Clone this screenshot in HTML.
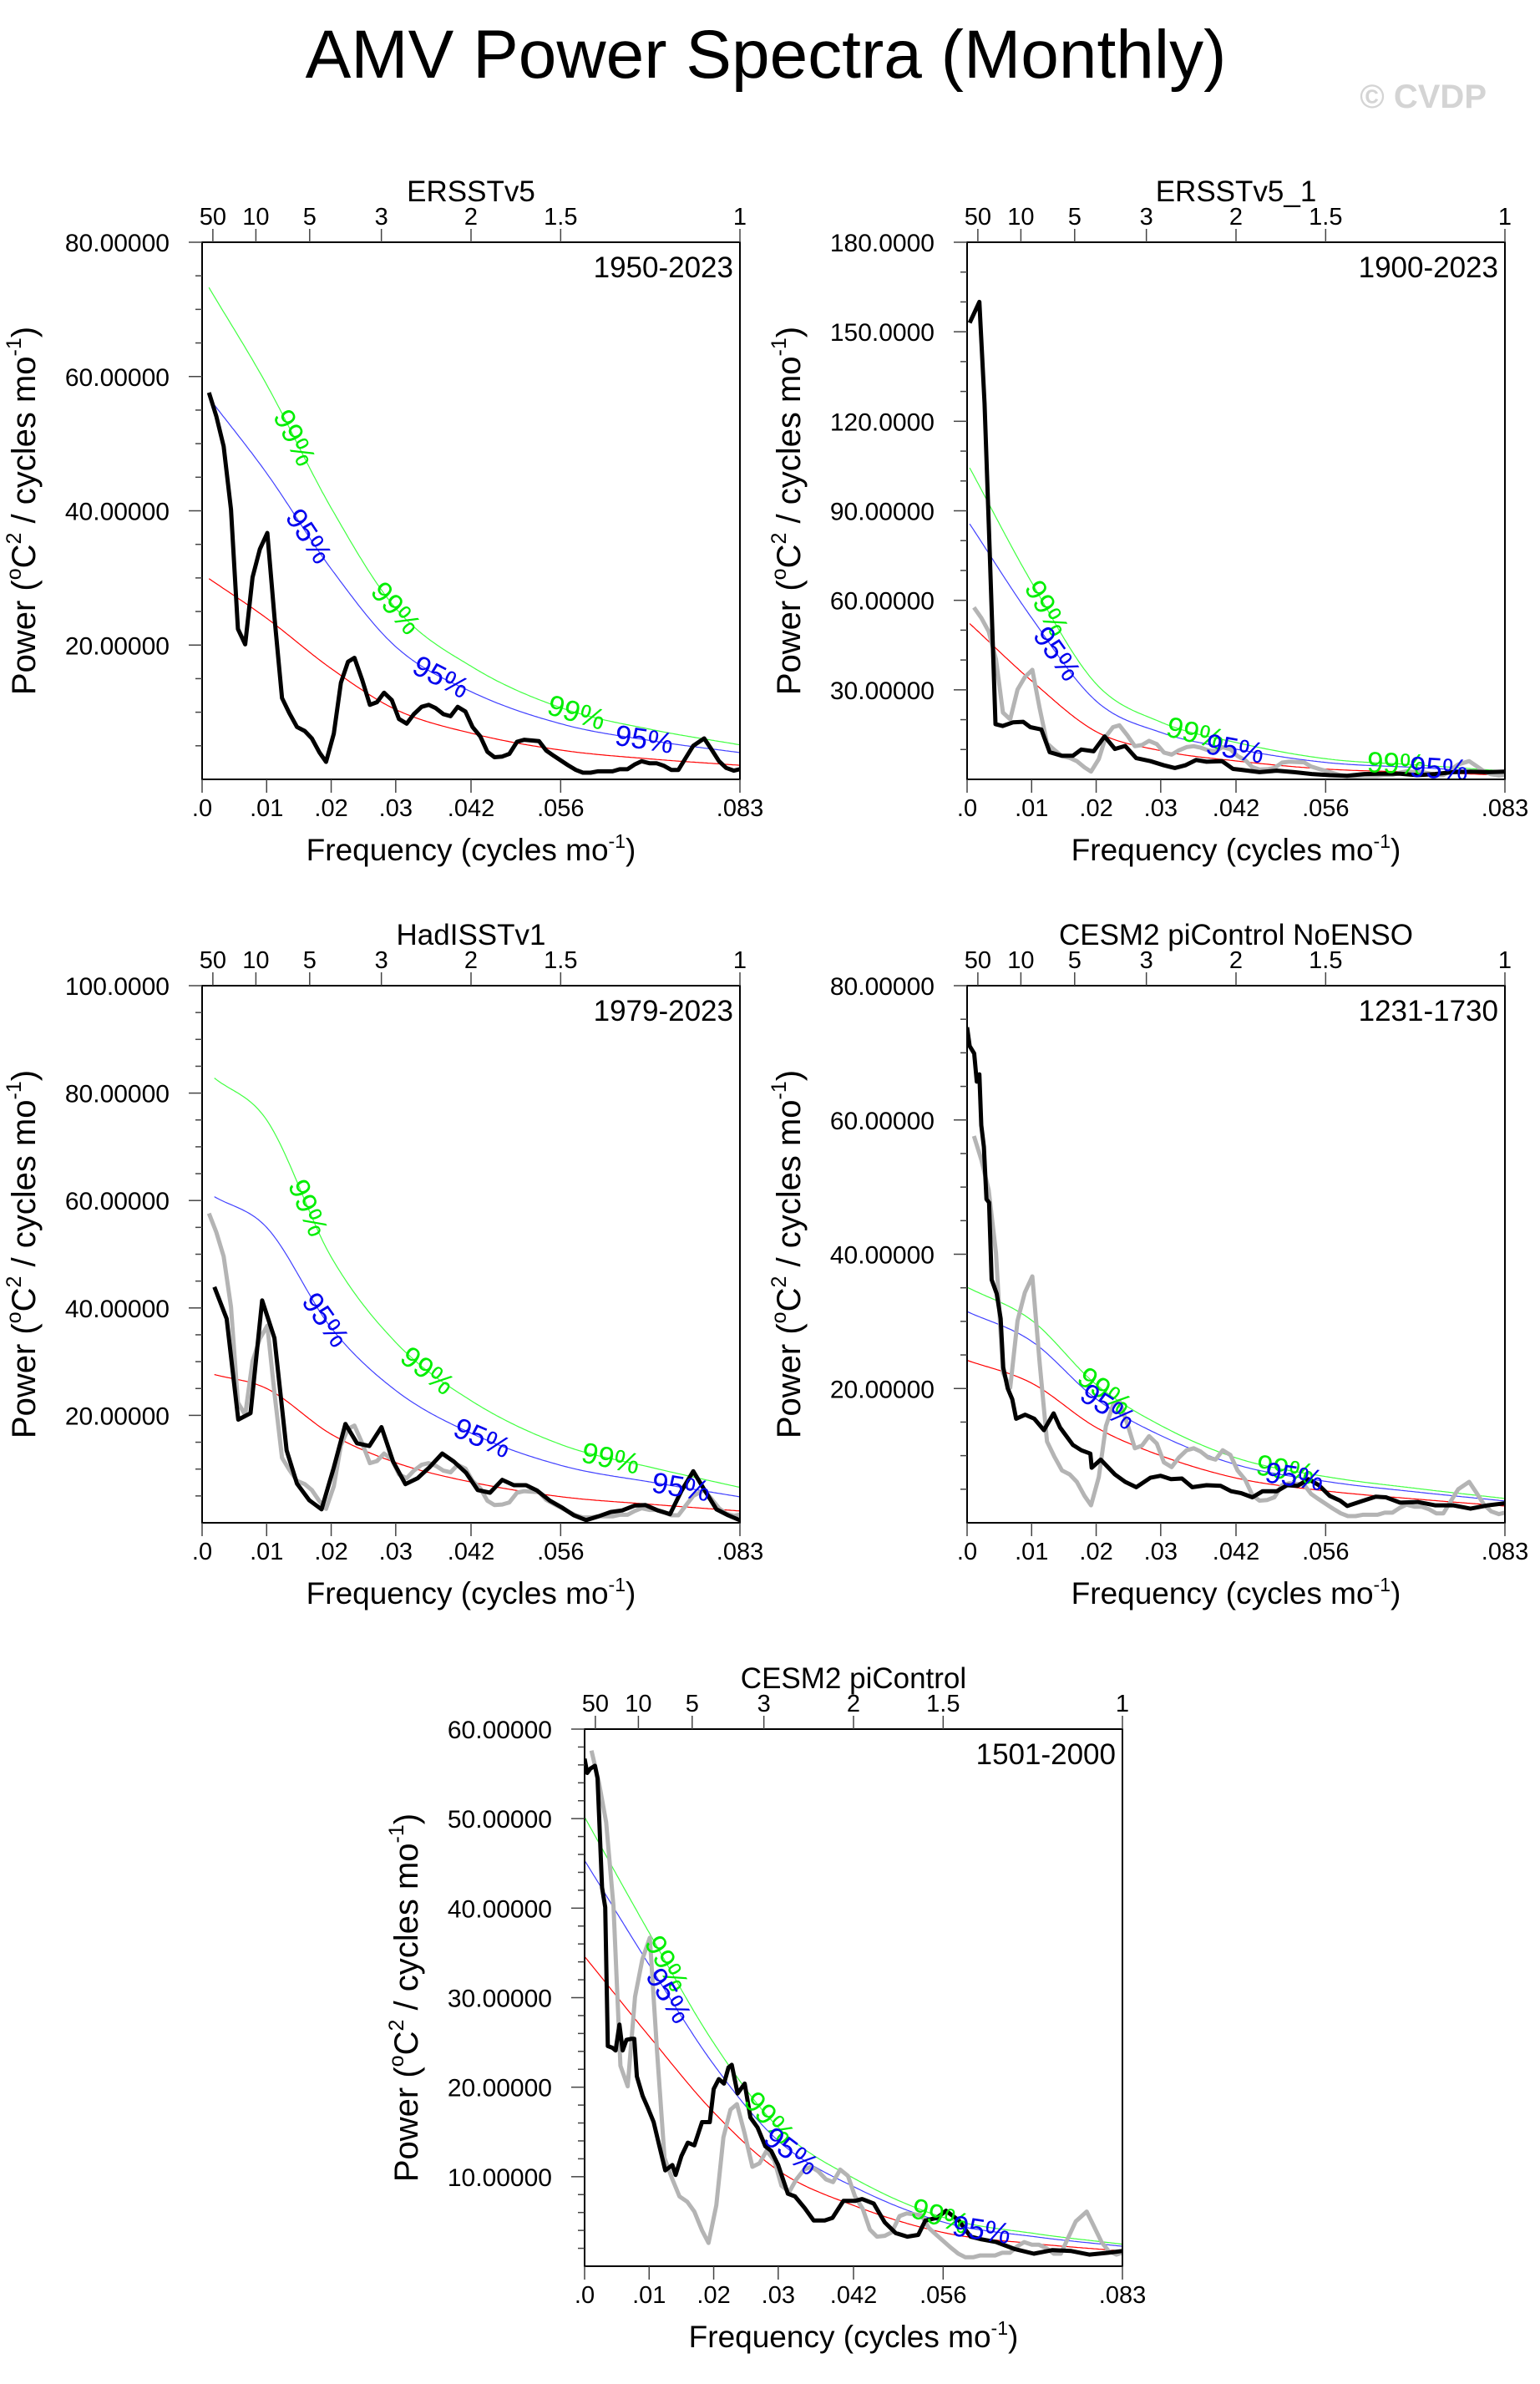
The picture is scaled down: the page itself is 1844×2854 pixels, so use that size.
<!DOCTYPE html>
<html><head><meta charset="utf-8"><title>AMV Power Spectra (Monthly)</title>
<style>
html,body{margin:0;padding:0;background:#fff;}
body{width:1844px;height:2849px;overflow:hidden;font-family:"Liberation Sans",Arial,sans-serif;}
svg text{font-family:"Liberation Sans",Arial,sans-serif;}
</style></head>
<body>
<svg id="chart" xmlns="http://www.w3.org/2000/svg" width="1844" height="2849" viewBox="0 0 1844 2849">
<text x="917" y="93" font-size="82" text-anchor="middle" fill="#000">AMV Power Spectra (Monthly)</text>
<text x="1780" y="129" font-size="40" font-weight="bold" text-anchor="end" fill="#d4d4d4">© CVDP</text>
</svg>
<script>
// ---- shared axis data ----
const topPeriods = [50, 10, 5, 3, 2, 1.5, 1];
const topPeriodLabels = ["50", "10", "5", "3", "2", "1.5", "1"];
const bottomFreqs = [0, 0.01, 0.02, 0.03, 1/24, 1/18, 1/12];
const bottomFreqLabels = [".0", ".01", ".02", ".03", ".042", ".056", ".083"];
const redFreqGrid = [0.0, 0.01, 0.02, 0.03, 0.042, 0.056, 0.07, 0.0833];

// ---- panel 1: ERSSTv5 1950-2023 (also the grey reference in other panels) ----
const p1Freq = [0.00106,0.0022,0.00334,0.00448,0.00555,0.00668,0.00782,0.00896,0.0101,0.01124,0.01238,0.0135,0.0147,0.0159,0.0170,0.0182,0.0192,0.0204,0.0215,0.0226,0.0236,0.0248,0.0260,0.0271,0.0282,0.0294,0.0305,0.0317,0.0328,0.0340,0.0351,0.0362,0.0374,0.0385,0.0396,0.0408,0.0419,0.0431,0.0442,0.0453,0.0465,0.0476,0.0488,0.0499,0.0510,0.0522,0.0533,0.0545,0.0556,0.0567,0.0579,0.0590,0.0602,0.0613,0.0624,0.0636,0.0647,0.0659,0.0670,0.0681,0.0693,0.0704,0.0716,0.0727,0.0738,0.0750,0.0761,0.0778,0.0789,0.0801,0.0812,0.0824,0.0833];
const p1Power = [57.6,54.1,49.6,40.2,22.4,20.1,30.1,34.3,36.7,23.8,12.1,9.9,7.8,7.2,6.1,4.0,2.6,6.8,14.4,17.5,18.1,14.8,11.1,11.5,12.9,11.8,9.0,8.3,9.7,10.8,11.1,10.6,9.7,9.4,10.8,10.1,7.8,6.4,4.1,3.3,3.4,3.8,5.6,5.9,5.8,5.7,4.3,3.5,2.8,2.1,1.4,1.0,1.0,1.2,1.2,1.2,1.5,1.5,2.2,2.7,2.4,2.4,2.0,1.4,1.4,3.3,5.0,6.1,4.5,2.7,1.7,1.3,1.5];
const p1Red = [29.9, 24.0, 16.5, 10.4, 6.8, 4.3, 3.0, 2.1];
const p1Conf = [1.9, 2.45];
const p1Label99 = [0.0143, 0.030, 0.058];
const p1Label95 = [0.0165, 0.037, 0.0685];

// ---- panel 2: ERSSTv5_1 1900-2023 ----
const p2Freq = [0.0004,0.0019,0.0027,0.0035,0.0044,0.0055,0.0071,0.0087,0.0098,0.0115,0.0128,0.0147,0.0164,0.0177,0.0196,0.0213,0.0229,0.0245,0.0262,0.0284,0.0305,0.0322,0.0338,0.0355,0.0371,0.0395,0.0412,0.0425,0.0453,0.0480,0.0507,0.0534,0.0562,0.0589,0.0616,0.0644,0.0671,0.0698,0.0725,0.0753,0.0780,0.0807,0.0833];
const p2Power = [153,160,126,77,18.5,17.9,19.1,19.3,17.5,16.7,9.1,7.9,7.9,10,9.4,14.4,10.2,11.2,7.1,6.1,4.7,3.8,4.7,6.5,5.9,6.1,3.5,3.2,2.4,2.9,2.4,1.8,1.4,1.2,1.8,1.9,1.9,1.4,1.8,2.4,2.6,2.4,2.6];
const p2Red = [52.2, 33.0, 16.0, 9.6, 6.1, 3.4, 2.4, 1.4];
const p2Conf = [1.64, 2.0];
const p2Label99 = [0.0123, 0.0354, 0.0665];
const p2Label95 = [0.0139, 0.0415, 0.0731];

// ---- panel 3: HadISSTv1 1979-2023 ----
const p3Freq = [0.0019,0.0038,0.0056,0.0075,0.0093,0.0112,0.0131,0.0147,0.0166,0.0185,0.0204,0.0222,0.0240,0.0259,0.0278,0.0296,0.0315,0.0334,0.0352,0.0372,0.0390,0.0409,0.0427,0.0446,0.0465,0.0483,0.0502,0.0519,0.0539,0.0557,0.0576,0.0595,0.0614,0.0633,0.0651,0.0670,0.0687,0.0706,0.0725,0.0743,0.0761,0.0779,0.0797,0.0815,0.0833];
const p3Power = [43.9,38.0,19.2,20.4,41.4,34.4,13.5,7.3,4.2,2.5,10.3,18.4,14.8,14.3,17.8,11.4,7.2,8.3,10.3,12.9,11.4,9.3,6.1,5.6,8.0,7.0,7.0,6.0,4.1,2.9,1.4,0.5,1.2,2.0,2.3,3.2,3.3,2.3,1.6,6.0,9.6,6.0,2.5,1.4,0.5];
const p3Red = [27.6, 25.0, 16.5, 11.2, 7.5, 4.8, 3.4, 2.2];
const p3Conf = [2.2, 3.0];
const p3Label99 = [0.0164, 0.0349, 0.0633];
const p3Label95 = [0.0191, 0.0434, 0.0742];

// ---- panel 4: CESM2 piControl NoENSO 1231-1730 ----
const p4Freq = [0.0,0.0004,0.0011,0.0015,0.0019,0.0022,0.0026,0.003,0.0034,0.0038,0.0046,0.0052,0.0056,0.0063,0.007,0.0076,0.009,0.0104,0.0119,0.0134,0.0144,0.0164,0.0177,0.0191,0.0193,0.0207,0.0229,0.0245,0.0262,0.0284,0.03,0.0316,0.0333,0.0349,0.0371,0.0393,0.0409,0.0425,0.0442,0.0458,0.048,0.0496,0.0512,0.0529,0.0545,0.0562,0.0578,0.0589,0.0611,0.0633,0.0649,0.0671,0.0698,0.0725,0.0753,0.078,0.0807,0.0833];
const p4Power = [73.8,71,69.9,65.7,66.8,59.2,56,48.2,47.7,36.2,34.1,30.4,23.1,20,18.4,15.5,16.1,15.5,13.8,16.3,14.2,11.6,10.8,10.3,8.2,9.4,7.2,6.1,5.3,6.7,7,6.5,6.6,5.3,5.6,5.5,4.7,4.4,3.8,4.7,4.7,5.6,5.5,6.5,5.6,4.0,3.3,2.5,3.2,3.9,3.8,3.0,3.1,2.6,2.6,2.1,2.6,2.9];
const p4Red = [24.2, 20.8, 14.2, 10.0, 6.6, 4.7, 3.5, 2.5];
const p4Conf = [1.3, 1.45];
const p4Label99 = [0.0213, 0.0493];
const p4Label95 = [0.0218, 0.0507];

// ---- panel 5: CESM2 piControl 1501-2000 ----
const p5Freq = [0.0,0.0004,0.0009,0.0016,0.002,0.0027,0.0032,0.0036,0.0043,0.0048,0.0054,0.0059,0.0065,0.0072,0.0077,0.0081,0.009,0.0098,0.0107,0.0116,0.0125,0.0136,0.0141,0.015,0.016,0.017,0.0182,0.0194,0.02,0.0208,0.0216,0.0223,0.0228,0.0237,0.0248,0.0257,0.0268,0.028,0.0289,0.03,0.0315,0.0326,0.0341,0.0355,0.0372,0.0384,0.0401,0.0419,0.043,0.0448,0.0465,0.0482,0.05,0.0517,0.0528,0.0546,0.056,0.058,0.0598,0.0615,0.0638,0.0667,0.0696,0.0725,0.0754,0.0782,0.0811,0.0833];
const p5Power = [56.7,55.1,55.6,55.9,54.5,42.3,40.1,24.6,24.4,24.1,27,24.1,25.3,25.4,25.4,21.2,19,17.7,16.1,13.4,10.7,11.3,10.2,12.3,13.8,13.5,16.1,16.1,19.8,20.9,20.4,22.2,22.5,19.3,20.4,16.6,15.5,13.4,12.9,11.3,8.1,7.8,6.5,5.1,5.1,5.4,7.3,7.3,7.5,7,4.9,3.7,3.3,3.5,5.1,5.4,6.2,5.1,3.3,3,2.7,1.9,1.4,1.8,1.7,1.3,1.5,1.7];
const p5Red = [34.6, 25.7, 17.2, 10.7, 6.7, 3.7, 2.5, 1.7];
const p5Conf = [1.31, 1.45];
const p5Label99 = [0.0127, 0.0286, 0.0551];
const p5Label95 = [0.013, 0.032, 0.0615];

// ---- y-axis tick data ----
const p1YTicks = [20, 40, 60, 80];
const p1YLabels = ["20.00000", "40.00000", "60.00000", "80.00000"];
const p2YTicks = [30, 60, 90, 120, 150, 180];
const p2YLabels = ["30.00000", "60.00000", "90.00000", "120.0000", "150.0000", "180.0000"];
const p3YTicks = [20, 40, 60, 80, 100];
const p3YLabels = ["20.00000", "40.00000", "60.00000", "80.00000", "100.0000"];
const p4YTicks = [20, 40, 60, 80];
const p4YLabels = ["20.00000", "40.00000", "60.00000", "80.00000"];
const p5YTicks = [10, 20, 30, 40, 50, 60];
const p5YLabels = ["10.00000", "20.00000", "30.00000", "40.00000", "50.00000", "60.00000"];

const NS = "http://www.w3.org/2000/svg";
const svg = document.getElementById("chart");
const W = 644, H = 643, FMAX = 1/12;

function mk(tag, attrs, parent) {
  const e = document.createElementNS(NS, tag);
  for (const k in attrs) e.setAttribute(k, attrs[k]);
  parent.appendChild(e);
  return e;
}

// monotone cubic interpolation for smooth threshold curves
function makeInterp(xs, ys) {
  const n = xs.length, d = [], m = [];
  for (let i = 0; i < n - 1; i++) d.push((ys[i+1]-ys[i])/(xs[i+1]-xs[i]));
  m.push(d[0]);
  for (let i = 1; i < n - 1; i++) m.push(d[i-1]*d[i] <= 0 ? 0 : (d[i-1]+d[i])/2);
  m.push(d[n-2]);
  for (let i = 0; i < n - 1; i++) {
    if (d[i] === 0) { m[i] = 0; m[i+1] = 0; continue; }
    const a = m[i]/d[i], b = m[i+1]/d[i], s = a*a + b*b;
    if (s > 9) { const t = 3/Math.sqrt(s); m[i] = t*a*d[i]; m[i+1] = t*b*d[i]; }
  }
  return function(x) {
    let i = 0;
    while (i < n - 2 && x > xs[i+1]) i++;
    const h = xs[i+1]-xs[i], t = (x-xs[i])/h;
    const h00 = 2*t*t*t-3*t*t+1, h10 = t*t*t-2*t*t+t, h01 = -2*t*t*t+3*t*t, h11 = t*t*t-t*t;
    return h00*ys[i] + h10*h*m[i] + h01*ys[i+1] + h11*h*m[i+1];
  };
}

function drawPanel(id, x0, y0, title, years, ymax, minorStep, yTicks, yLabels, freq, power, red, conf, lab99, lab95, showGrey) {
  const g = mk("g", {}, svg);
  
  
  const sx = f => x0 + f / FMAX * W;
  const sy = v => y0 + H - v / ymax * H;

  const clipId = id + "-clip";
  const cp = mk("clipPath", {id: clipId}, g);
  mk("rect", {x: x0, y: y0, width: W, height: H}, cp);

  const f0 = freq[0];
  const grid = redFreqGrid.slice(); grid[0] = f0;
  const redI = makeInterp(grid, red);
  const curves = [
    {name: "red-noise-curve", color: "#ff0000", k: 1},
    {name: "confidence-95-curve", color: "#0000ff", k: conf[0]},
    {name: "confidence-99-curve", color: "#00ff00", k: conf[1]}
  ];
  const plot = mk("g", {"clip-path": "url(#" + clipId + ")"}, g);
  curves.forEach(c => {
    let d = "";
    for (let i = 0; i <= 300; i++) {
      const f = f0 + (FMAX - f0) * i / 300;
      d += (i ? "L" : "M") + sx(f).toFixed(1) + "," + sy(redI(f) * c.k).toFixed(1);
    }
    const p = mk("path", {d: d, fill: "none", stroke: c.color, "stroke-width": 1.2, opacity: c.k === 1 ? 1 : 0.75}, plot);
    
    
  });

  if (showGrey) {
    let d = "";
    p1Freq.forEach((f, i) => { d += (i ? "L" : "M") + sx(f).toFixed(1) + "," + sy(p1Power[i]).toFixed(1); });
    const p = mk("path", {d: d, fill: "none", stroke: "#b4b4b4", "stroke-width": 5, "stroke-linejoin": "round"}, plot);
    
    
  }
  {
    let d = "";
    freq.forEach((f, i) => { d += (i ? "L" : "M") + sx(f).toFixed(1) + "," + sy(power[i]).toFixed(1); });
    const p = mk("path", {d: d, fill: "none", stroke: "#000", "stroke-width": 5, "stroke-linejoin": "round"}, plot);
    
    
  }

  const addLabels = (arr, k, txt, color) => {
    arr.forEach(f => {
      const x = sx(f), y = sy(redI(f) * k);
      const x2 = sx(f + 0.0015), y2 = sy(redI(f + 0.0015) * k);
      const x1 = sx(Math.max(f0, f - 0.0015)), y1 = sy(redI(Math.max(f0, f - 0.0015)) * k);
      const ang = Math.atan2(y2 - y1, x2 - x1) * 180 / Math.PI;
      const t = mk("text", {x: x, y: y, "font-size": 35, fill: color, "text-anchor": "middle", "dominant-baseline": "central", transform: "rotate(" + ang.toFixed(1) + " " + x.toFixed(1) + " " + y.toFixed(1) + ")"}, g);
      t.textContent = txt;
      
      
    });
  };
  addLabels(lab99, conf[1], "99%", "#00ee00");
  addLabels(lab95, conf[0], "95%", "#0000ee");

  const fr = mk("rect", {x: x0, y: y0, width: W, height: H, fill: "none", stroke: "#000", "stroke-width": 2}, g);
  
  

  for (let v = minorStep; v <= ymax + 1e-9; v += minorStep) {
    const isMajor = yTicks.some(t => Math.abs(t - v) < 1e-6);
    mk("line", {x1: x0 - (isMajor ? 16 : 8), x2: x0, y1: sy(v), y2: sy(v), stroke: "#444", "stroke-width": 1.5}, g);
  }
  yTicks.forEach((v, i) => {
    const t = mk("text", {x: x0 - 39, y: sy(v) + 11, "font-size": 30, "text-anchor": "end", fill: "#000"}, g);
    t.textContent = yLabels[i];
    
    
  });
  bottomFreqs.forEach((f, i) => {
    mk("line", {x1: sx(f), x2: sx(f), y1: y0 + H, y2: y0 + H + 16, stroke: "#444", "stroke-width": 1.5}, g);
    const t = mk("text", {x: sx(f), y: y0 + H + 44, "font-size": 29, "text-anchor": "middle", fill: "#000"}, g);
    t.textContent = bottomFreqLabels[i];
    
    
  });
  topPeriods.forEach((p, i) => {
    const f = 1 / (12 * p);
    mk("line", {x1: sx(f), x2: sx(f), y1: y0, y2: y0 - 16, stroke: "#444", "stroke-width": 1.5}, g);
    const t = mk("text", {x: sx(f), y: y0 - 21, "font-size": 29, "text-anchor": "middle", fill: "#000"}, g);
    t.textContent = topPeriodLabels[i];
    
    
  });
  const tt = mk("text", {x: x0 + W/2, y: y0 - 49, "font-size": 35, "text-anchor": "middle", fill: "#000"}, g);
  tt.textContent = title;
  
  
  const yr = mk("text", {x: x0 + W - 8, y: y0 + 42, "font-size": 35, "text-anchor": "end", fill: "#000"}, g);
  yr.textContent = years;
  
  

  const xt = mk("text", {x: x0 + W/2, y: y0 + H + 97, "font-size": 37, "text-anchor": "middle", fill: "#000"}, g);
  xt.innerHTML = 'Frequency (cycles mo<tspan font-size="23" dy="-15">-1</tspan><tspan dy="15">)</tspan>';
  
  

  const ycx = x0 - 200, ycy = y0 + H/2;
  const yt = mk("text", {x: ycx, y: ycy, "font-size": 40, "text-anchor": "middle", fill: "#000", transform: "rotate(-90 " + ycx + " " + ycy + ")"}, g);
  yt.innerHTML = 'Power (<tspan font-size="25" dy="-17">o</tspan><tspan dy="17">C</tspan><tspan font-size="25" dy="-17">2</tspan><tspan dy="17"> / cycles mo</tspan><tspan font-size="25" dy="-17">-1</tspan><tspan dy="17">)</tspan>';
  
  
}

drawPanel("ersstv5", 242, 290, "ERSSTv5", "1950-2023", 80, 5, p1YTicks, p1YLabels, p1Freq, p1Power, p1Red, p1Conf, p1Label99, p1Label95, false);
drawPanel("ersstv5-1", 1158, 290, "ERSSTv5_1", "1900-2023", 180, 10, p2YTicks, p2YLabels, p2Freq, p2Power, p2Red, p2Conf, p2Label99, p2Label95, true);
drawPanel("hadisstv1", 242, 1180, "HadISSTv1", "1979-2023", 100, 5, p3YTicks, p3YLabels, p3Freq, p3Power, p3Red, p3Conf, p3Label99, p3Label95, true);
drawPanel("cesm2-noenso", 1158, 1180, "CESM2 piControl NoENSO", "1231-1730", 80, 5, p4YTicks, p4YLabels, p4Freq, p4Power, p4Red, p4Conf, p4Label99, p4Label95, true);
drawPanel("cesm2-picontrol", 700, 2070, "CESM2 piControl", "1501-2000", 60, 2, p5YTicks, p5YLabels, p5Freq, p5Power, p5Red, p5Conf, p5Label99, p5Label95, true);
</script>
</body></html>
